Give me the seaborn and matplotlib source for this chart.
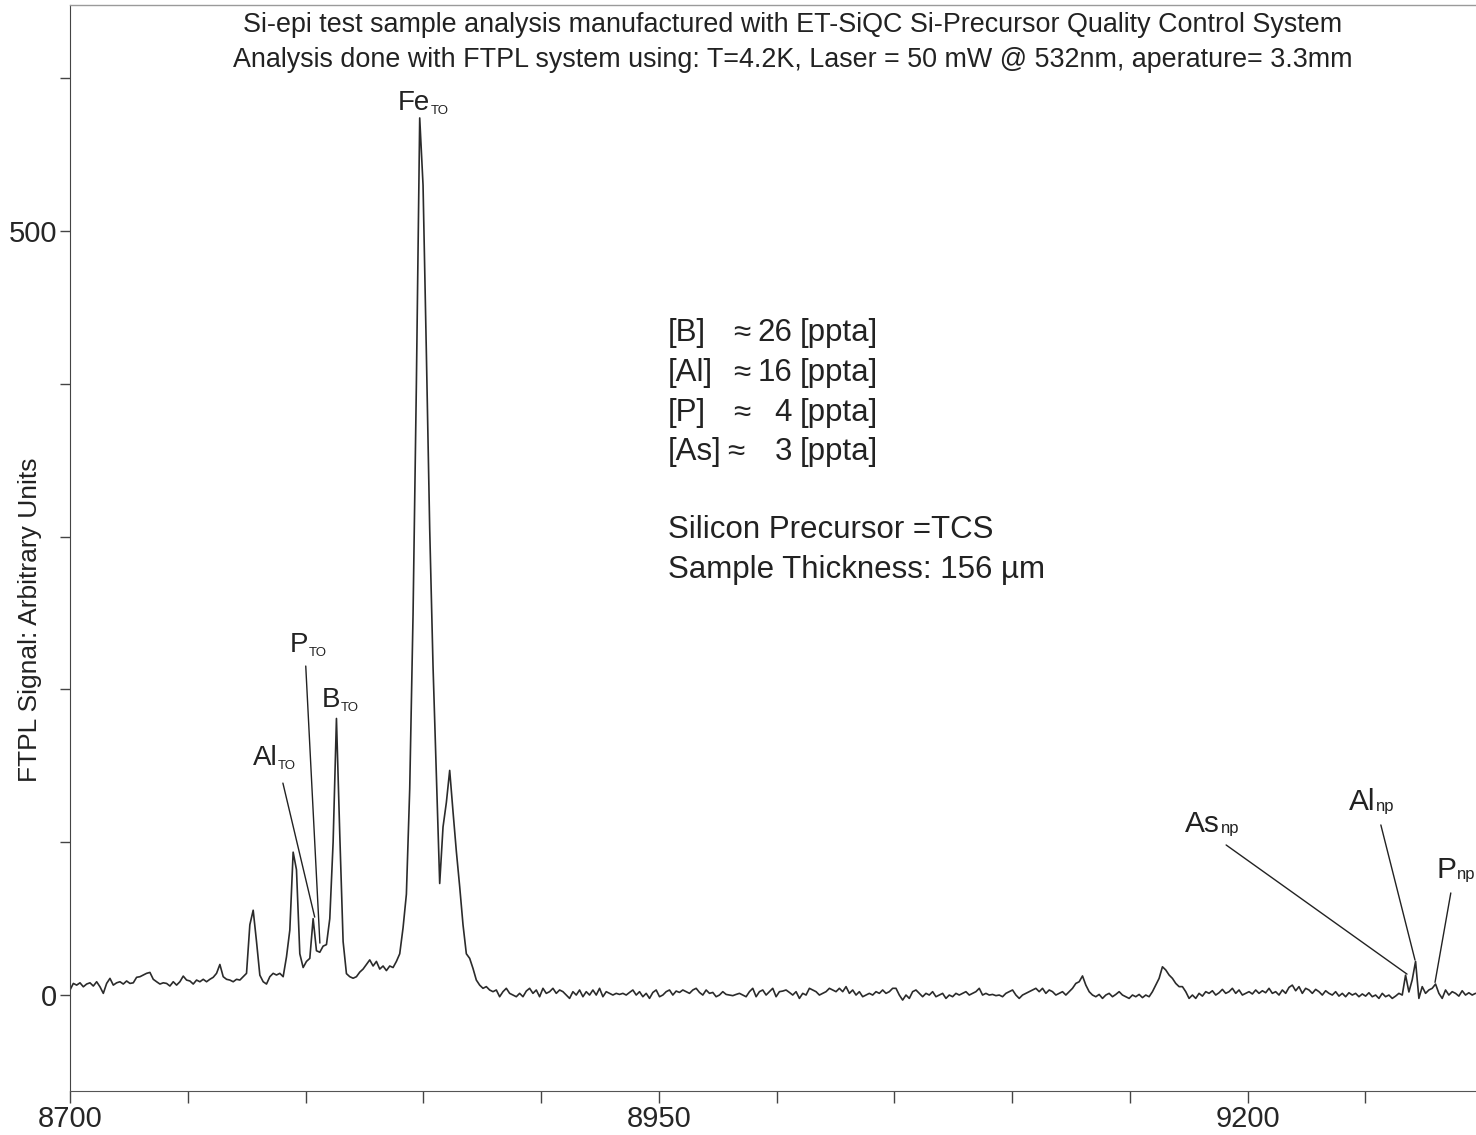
import numpy as np
import pandas as pd
import matplotlib
matplotlib.use("Agg")
import matplotlib.pyplot as plt
import seaborn as sns

# ── Spectrum (one reading every ~1.41 cm-1) ─────────────────────────────
WN_START = 8700.0
WN_STEP = 1.4142

signal = [
    3.3, 7.6, 6.5, 8.0, 5.4, 7.2, 8.0, 5.9, 8.7, 5.4,
    1.1, 7.6, 10.9, 6.5, 8.0, 8.7, 7.2, 9.2, 7.6, 8.0,
    11.6, 12.0, 13.1, 14.2, 14.8, 10.3, 8.7, 7.2, 8.0, 7.6,
    5.9, 8.7, 6.5, 8.7, 12.4, 9.8, 9.2, 7.2, 9.8, 8.7,
    10.3, 8.7, 10.3, 11.6, 14.2, 20.0, 12.0, 10.3, 9.8, 8.7,
    10.3, 9.8, 12.0, 14.2, 46.0, 55.5, 35.0, 13.0, 8.7, 7.2,
    12.0, 14.2, 13.1, 14.2, 12.0, 25.0, 42.5, 93.5, 82.0, 27.0,
    18.0, 22.0, 24.0, 50.0, 29.0, 28.0, 32.0, 33.0, 50.0, 100.0,
    181.0, 105.0, 35.0, 14.0, 12.0, 11.0, 12.0, 15.0, 17.0, 20.0,
    23.0, 19.0, 22.0, 17.0, 19.0, 16.0, 19.0, 18.0, 22.0, 27.0,
    44.0, 66.0, 135.0, 249.0, 400.0, 574.0, 530.0, 420.0, 305.0, 215.0,
    145.0, 73.0, 110.0, 126.0, 147.0, 120.0, 94.0, 71.0, 46.0, 27.0,
    24.0, 17.4, 9.8, 6.5, 4.4, 5.5, 3.3, 2.2, 3.3, -1.1,
    2.2, 4.4, 1.1, 0.0, -1.1, 1.1, -1.1, 2.6, 4.4, 1.1,
    3.3, -1.1, 4.4, 1.1, 2.2, 4.4, 1.1, 3.3, 2.2, 0.0,
    -2.2, 2.2, 0.0, 3.3, -1.1, 2.2, 0.0, 3.3, 0.0, 4.4,
    -1.1, 2.2, 1.1, 0.0, 1.1, 0.4, 1.1, 0.0, 1.7, 3.3,
    0.0, 2.2, -1.1, 1.1, -2.2, 1.7, 3.3, -1.1, 0.0, 2.2,
    3.3, 0.0, 2.6, 1.7, 3.3, 2.2, 1.1, 3.3, 4.4, 1.7,
    0.0, 3.3, 1.1, 1.7, -1.1, 0.0, 2.2, 0.4, 0.0, -0.4,
    0.4, 1.1, 0.0, -1.1, 2.2, 4.4, -1.1, 2.2, 3.3, 0.0,
    2.2, 4.4, -1.1, 2.2, 2.6, 3.3, 1.7, 0.0, 2.2, -2.2,
    1.1, 0.0, 4.4, 3.3, 2.2, 0.0, 1.1, 2.2, 4.4, 3.3,
    2.2, 4.4, 2.2, 5.5, 1.1, 3.3, 0.0, 2.2, -1.1, 0.0,
    1.1, 0.0, 2.2, 1.1, 3.3, 1.1, 2.2, 4.4, 4.4, 0.0,
    -3.3, 0.0, -2.2, 2.2, 3.3, 1.1, -1.1, 1.1, 0.0, 2.2,
    -1.1, 0.0, 1.1, -2.2, 0.0, -1.1, 1.1, 0.0, 1.1, 2.2,
    0.0, 1.1, 2.2, 4.4, 0.0, 1.1, 0.0, 0.4, -0.4, 0.0,
    -1.1, 1.1, 2.2, 3.3, 0.0, -2.2, 0.0, 1.1, 2.2, 3.3,
    4.4, 2.2, 4.4, 1.1, 3.3, 2.2, 0.0, 1.1, 2.2, 0.0,
    2.2, 4.4, 7.6, 8.7, 12.5, 6.5, 2.2, 0.0, -1.1, 0.4,
    -2.2, 0.0, 1.1, -1.1, 0.4, 2.2, 0.0, -1.1, -2.2, 0.0,
    -1.1, 0.4, -1.7, 0.0, -1.1, 2.2, 6.5, 10.9, 18.5, 16.4,
    13.1, 10.9, 7.6, 5.5, 5.5, 2.2, -2.2, 0.0, -2.2, 1.1,
    -0.7, 2.2, 1.1, 2.8, 0.0, 1.5, 3.7, 1.1, 2.2, 4.4,
    1.1, 3.3, 0.0, 1.1, 2.2, 0.7, 3.3, 1.1, 2.8, 1.5,
    4.4, 1.1, 2.2, 0.0, 3.3, 1.1, 5.0, 6.5, 2.8, 5.5,
    1.1, 4.4, 3.3, 1.1, 3.7, 2.2, 0.0, 2.8, 1.1, 0.0,
    2.2, -0.7, 1.1, -1.1, 1.5, 0.0, 1.1, -1.1, 0.7, -0.7,
    1.5, -1.1, 0.0, -2.2, 1.1, -1.1, 0.0, -2.2, -0.7, 1.1,
    0.0, 13.0, 2.0, 10.0, 22.0, -2.2, 5.5, 1.1, 3.3, 4.4,
    7.2, 1.1, -2.2, 3.3, 0.0, 2.2, 1.1, -0.7, 2.8, 0.0,
    1.5, 0.0, 1.1,
]

x_ticks = [8700, 8750, 8800, 8850, 8900, 8950, 9000, 9050, 9100, 9150, 9200, 9250]
x_ticklabels = ["8700", "", "", "", "", "8950", "", "", "", "", "9200", ""]
y_ticks = [0, 100, 200, 300, 400, 500, 600]
y_ticklabels = ["0", "", "", "", "", "500", ""]

title_lines = [
    "Si-epi test sample analysis manufactured with ET-SiQC Si-Precursor Quality Control System",
    "Analysis done with FTPL system using: T=4.2K, Laser = 50 mW @ 532nm, aperature= 3.3mm",
]
y_label = "FTPL Signal: Arbitrary Units"

conc_species = ["[B]", "[Al]", "[P]", "[As]"]
conc_values = ["26", "16", "4", "3"]
conc_unit = "[ppta]"
sample_info = ["Silicon Precursor =TCS", "Sample Thickness: 156 µm"]

# peak labels: name, subscript, label anchor (cm-1, signal)
peak_names = ["Fe", "Al", "P", "B", "As", "Al", "P"]
peak_subs = ["TO", "TO", "TO", "TO", "np", "np", "np"]
peak_label_x = [8839.2, 8777.6, 8793.3, 8806.9, 9173.5, 9243.1, 9280.3]
peak_label_y = [579.2, 150.5, 224.5, 188.5, 106.7, 121.1, 76.6]
# leader lines: from (start) to the peak (end)
leader_start = [(8790.4, 138.7), (8800.1, 215.3), (9190.9, 98.2), (9256.6, 111.3), (9286.3, 66.8)]
leader_end = [(8803.9, 51.0), (8806.1, 34.0), (9267.7, 13.7), (9271.1, 22.9), (9279.6, 8.3)]

# ── Figure ──────────────────────────────────────────────────────────────
W, H = 1476, 1135
sns.set_style("ticks")
plt.rcParams["font.family"] = ["Liberation Sans", "DejaVu Sans"]
INK = "#222222"


def fx(px):
    return px / W


def fy(py):
    return 1 - py / H


fig = plt.figure(figsize=(W / 100, H / 100), dpi=100)
ax = fig.add_axes([fx(70), (H - 1091) / H, 1 - fx(70), (1091 - 5) / H])

df = pd.DataFrame({
    "wavenumber": WN_START + WN_STEP * np.arange(len(signal)),
    "signal": signal,
})
sns.lineplot(data=df, x="wavenumber", y="signal", ax=ax,
             color="#2b2b2b", linewidth=1.2, estimator=None, sort=False)

ax.set_xlim(8700, 9297)
ax.set_ylim(-62.8, 647.9)
ax.set_xlabel("")
ax.set_ylabel("")

ax.set_xticks(x_ticks)
ax.set_xticklabels(x_ticklabels, fontsize=21)
ax.set_yticks(y_ticks)
ax.set_yticklabels(y_ticklabels, fontsize=21)
ax.tick_params(axis="both", direction="out", width=1.0, color="#444444")
ax.tick_params(axis="x", length=8.6, pad=1.5)
ax.tick_params(axis="y", length=7, pad=2)

ax.spines["right"].set_visible(False)
ax.spines["top"].set_color("#9a9a9a")
ax.spines["top"].set_linewidth(1.0)
ax.spines["left"].set_color("#444444")
ax.spines["bottom"].set_color("#555555")

# titles and y label
fig.text(fx(793), fy(25), title_lines[0], ha="center", va="center", fontsize=19.4, color=INK)
fig.text(fx(793), fy(60), title_lines[1], ha="center", va="center", fontsize=19.4, color=INK)
fig.text(fx(30), fy(620), y_label, rotation=90, ha="center", va="center", fontsize=19, color=INK)

# concentration block
conc_base = [341, 381, 421, 460]
approx_x = [733, 733, 733, 727]
for sp, val, yb, ax_x in zip(conc_species, conc_values, conc_base, approx_x):
    fig.text(fx(668), fy(yb), sp, fontsize=22.5, va="baseline", color=INK)
    fig.text(fx(ax_x), fy(yb), "≈", fontsize=22.5, va="baseline", color=INK)
    fig.text(fx(792), fy(yb), val, fontsize=22.5, va="baseline", ha="right", color=INK)
    fig.text(fx(800), fy(yb), conc_unit, fontsize=22.5, va="baseline", color=INK)
for line, yb in zip(sample_info, [538, 578]):
    fig.text(fx(668), fy(yb), line, fontsize=22.5, va="baseline", color=INK)

# peak labels with small subscripts
renderer = fig.canvas.get_renderer()
for name, sub, lx, ly in zip(peak_names, peak_subs, peak_label_x, peak_label_y):
    big = 20 if sub == "TO" else 21.5
    small = 9.5 if sub == "TO" else 12
    drop = 3 if sub == "TO" else 1
    t = ax.text(lx, ly, name, fontsize=big, va="baseline", ha="left", color=INK)
    w = t.get_window_extent(renderer).width * 72 / fig.dpi
    ax.annotate(sub, xy=(lx, ly), xytext=(w + 0.3, -drop), textcoords="offset points",
                fontsize=small, va="baseline", ha="left", color=INK)

for s, e in zip(leader_start, leader_end):
    ax.annotate("", xy=e, xytext=s,
                arrowprops=dict(arrowstyle="-", color=INK, lw=1.0, shrinkA=0, shrinkB=0))

fig.savefig("out.png", dpi=100)
